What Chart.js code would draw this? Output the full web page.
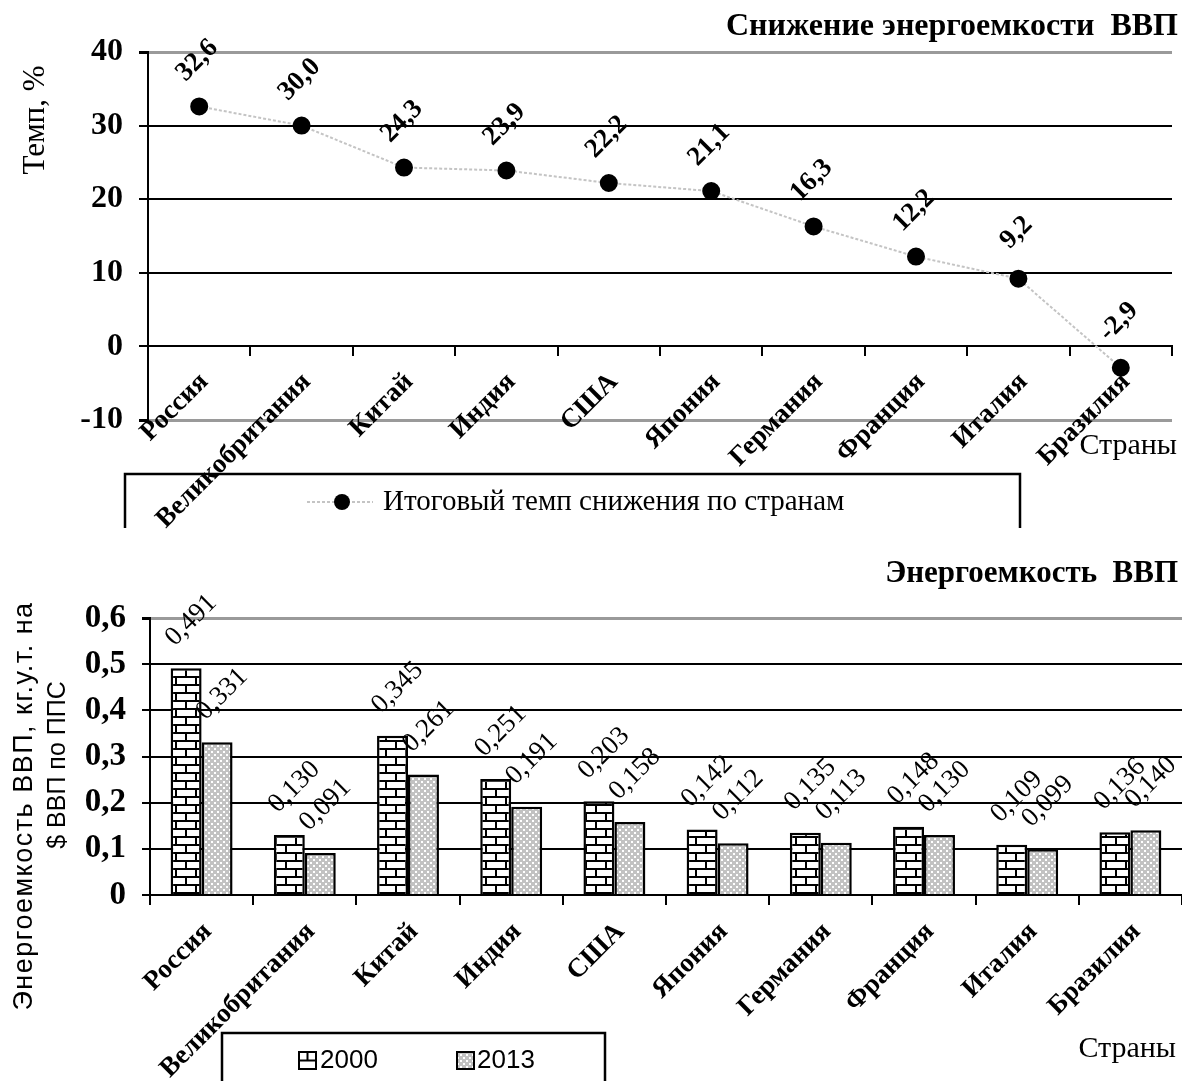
<!DOCTYPE html>
<html lang="ru">
<head>
<meta charset="UTF-8">
<title>Энергоемкость ВВП</title>
<script src="https://cdn.jsdelivr.net/npm/chart.js"></script>
<style>
    body { margin: 0; background: #fff; }
    .wrap { position: relative; width: 1182px; height: 1081px; }
    #topChart { position: absolute; left: 0; top: 0; }
    #bottomChart { position: absolute; left: 0; top: 540px; }
</style>
</head>
<body>
<div class="wrap">
    <canvas id="topChart" width="1182" height="540"></canvas>
    <canvas id="bottomChart" width="1182" height="541"></canvas>
</div>

<script>
// --- data ---
const countries = ['Россия', 'Великобритания', 'Китай', 'Индия', 'США', 'Япония', 'Германия', 'Франция', 'Италия', 'Бразилия'];
const declineRate = [32.6, 30.0, 24.3, 23.9, 22.2, 21.1, 16.3, 12.2, 9.2, -2.9];
const intensity2000 = [0.491, 0.130, 0.345, 0.251, 0.203, 0.142, 0.135, 0.148, 0.109, 0.136];
const intensity2013 = [0.331, 0.091, 0.261, 0.191, 0.158, 0.112, 0.113, 0.130, 0.099, 0.140];
const rateTicks = [-10, 0, 10, 20, 30, 40];
const intensityTicks = [0, 0.1, 0.2, 0.3, 0.4, 0.5, 0.6];

const SERIF = '"Liberation Serif", "Times New Roman", serif';
const SANS = '"Liberation Sans", Arial, sans-serif';

function comma(v, d) {
    return v.toFixed(d).replace('.', ',');
}

// fill patterns for the bars
function brickPattern(ctx) {
    const c = document.createElement('canvas');
    c.width = 20; c.height = 16;
    const g = c.getContext('2d');
    g.fillStyle = '#fff';
    g.fillRect(0, 0, 20, 16);
    g.strokeStyle = '#000';
    g.lineWidth = 2;
    g.beginPath();
    g.moveTo(0, 1); g.lineTo(20, 1);
    g.moveTo(0, 9); g.lineTo(20, 9);
    g.moveTo(6, 1); g.lineTo(6, 9);
    g.moveTo(16, 9); g.lineTo(16, 17);
    g.stroke();
    return ctx.createPattern(c, 'repeat');
}

function dotPattern(ctx) {
    const c = document.createElement('canvas');
    c.width = 6; c.height = 6;
    const g = c.getContext('2d');
    g.fillStyle = '#c2c2c2';
    g.fillRect(0, 0, 6, 6);
    g.fillStyle = '#fff';
    g.fillRect(1, 1, 2, 2);
    g.fillRect(4, 4, 2, 2);
    return ctx.createPattern(c, 'repeat');
}

function rotatedText(ctx, text, x, y, angle) {
    ctx.save();
    ctx.translate(x, y);
    ctx.rotate(angle);
    ctx.fillText(text, 0, 0);
    ctx.restore();
}

function gridColor(top, bottom) {
    return function (c) {
        if (c.tick && (c.tick.value === top || c.tick.value === bottom)) return '#9a9a9a';
        return '#000';
    };
}

// --- top chart: rate of decline ---
const topDecor = {
    id: 'topDecor',
    afterDatasetsDraw(chart) {
        const ctx = chart.ctx;
        ctx.save();
        ctx.fillStyle = '#000';
        ctx.font = 'bold 27px ' + SERIF;
        ctx.textAlign = 'center';
        ctx.textBaseline = 'middle';
        chart.getDatasetMeta(0).data.forEach(function (pt, i) {
            rotatedText(ctx, comma(declineRate[i], 1), pt.x - 2, pt.y - 46, -Math.PI / 4);
        });
        ctx.restore();
    },
    afterDraw(chart) {
        const ctx = chart.ctx;
        ctx.save();
        ctx.fillStyle = '#000';
        ctx.textBaseline = 'middle';

        ctx.font = 'bold 32px ' + SERIF;
        ctx.textAlign = 'right';
        ctx.fillText('Снижение энергоемкости  ВВП', 1178, 27);

        ctx.font = '30px ' + SERIF;
        ctx.fillText('Страны', 1177, 446);

        ctx.textAlign = 'center';
        ctx.font = '31px ' + SERIF;
        rotatedText(ctx, 'Темп, %', 36, 120, -Math.PI / 2);

        // legend box
        ctx.strokeStyle = '#000';
        ctx.lineWidth = 2.5;
        ctx.beginPath();
        ctx.moveTo(125, 528); ctx.lineTo(125, 474); ctx.lineTo(1020, 474); ctx.lineTo(1020, 528);
        ctx.stroke();

        ctx.strokeStyle = '#c4c4c4';
        ctx.lineWidth = 2;
        ctx.setLineDash([3, 2]);
        ctx.beginPath();
        ctx.moveTo(307, 502); ctx.lineTo(373, 502);
        ctx.stroke();
        ctx.setLineDash([]);
        ctx.beginPath();
        ctx.arc(342, 502, 8, 0, Math.PI * 2);
        ctx.fill();

        ctx.textAlign = 'left';
        ctx.font = '29px ' + SERIF;
        ctx.fillText('Итоговый темп снижения по странам', 383, 502);
        ctx.restore();
    }
};

new Chart(document.getElementById('topChart'), {
    type: 'line',
    data: {
        labels: countries,
        datasets: [{
            label: 'Итоговый темп снижения по странам',
            data: declineRate,
            borderColor: '#c4c4c4',
            borderWidth: 2,
            borderDash: [3, 2],
            pointRadius: 8,
            pointBackgroundColor: '#000',
            pointBorderColor: '#000',
            tension: 0,
            clip: false
        }]
    },
    options: {
        responsive: false,
        animation: false,
        layout: { padding: { top: 52, bottom: 120, left: 0, right: 0 } },
        plugins: { legend: { display: false }, tooltip: { enabled: false } },
        scales: {
            x: {
                type: 'category',
                position: { y: 0 },
                offset: true,
                grid: { display: true, drawOnChartArea: false, drawTicks: true, tickLength: 9, offset: true, color: '#000', lineWidth: 2 },
                border: { display: true, color: '#000', width: 2 },
                ticks: {
                    autoSkip: false, minRotation: 45, maxRotation: 45, padding: 11, labelOffset: 5,
                    color: '#000', font: { family: SERIF, size: 27, weight: 'bold' }
                }
            },
            y: {
                min: rateTicks[0],
                max: rateTicks[rateTicks.length - 1],
                afterFit: function (scale) { scale.width = 148; },
                afterBuildTicks: function (scale) { scale.ticks = rateTicks.map(function (v) { return { value: v }; }); },
                grid: {
                    color: gridColor(40, -10),
                    lineWidth: function (c) { return (c.tick && (c.tick.value === 40 || c.tick.value === -10)) ? 3 : 2; },
                    tickColor: '#000', tickLength: 9
                },
                border: { display: true, color: '#000', width: 2 },
                ticks: {
                    padding: 16, color: '#000',
                    font: { family: SERIF, size: 32, weight: 'bold' },
                    callback: function (v) { return String(v); }
                }
            }
        }
    },
    plugins: [topDecor]
});

// --- bottom chart: energy intensity ---
const botCanvas = document.getElementById('bottomChart');
const botCtx = botCanvas.getContext('2d');
const bricks = brickPattern(botCtx);
const dots = dotPattern(botCtx);

const bottomDecor = {
    id: 'bottomDecor',
    afterDatasetsDraw(chart) {
        const ctx = chart.ctx;
        ctx.save();
        ctx.fillStyle = '#000';
        ctx.font = '27px ' + SERIF;
        ctx.textAlign = 'center';
        ctx.textBaseline = 'middle';
        [intensity2000, intensity2013].forEach(function (series, d) {
            chart.getDatasetMeta(d).data.forEach(function (bar, i) {
                rotatedText(ctx, comma(series[i], 3), bar.x + 5, bar.y - 48, -Math.PI / 4);
            });
        });
        ctx.restore();
    },
    afterDraw(chart) {
        const ctx = chart.ctx;
        ctx.save();
        ctx.fillStyle = '#000';
        ctx.textBaseline = 'middle';

        ctx.font = 'bold 31px ' + SERIF;
        ctx.textAlign = 'right';
        ctx.fillText('Энергоемкость  ВВП', 1178, 34);

        ctx.font = '30px ' + SERIF;
        ctx.fillText('Страны', 1176, 509);

        ctx.textAlign = 'center';
        ctx.font = '27px ' + SANS;
        ctx.letterSpacing = '1.5px';
        rotatedText(ctx, 'Энергоемкость ВВП, кг.у.т. на', 25, 266, -Math.PI / 2);
        ctx.letterSpacing = '0px';
        ctx.font = '25px ' + SANS;
        rotatedText(ctx, '$ ВВП по ППС', 58, 225, -Math.PI / 2);

        // legend box
        ctx.strokeStyle = '#000';
        ctx.lineWidth = 2.5;
        ctx.beginPath();
        ctx.moveTo(222, 541); ctx.lineTo(222, 493); ctx.lineTo(605, 493); ctx.lineTo(605, 541);
        ctx.stroke();

        ctx.lineWidth = 2;
        ctx.fillStyle = '#fff';
        ctx.fillRect(299, 512, 17, 17);
        ctx.strokeRect(299, 512, 17, 17);
        ctx.beginPath();
        ctx.moveTo(299, 520.5); ctx.lineTo(316, 520.5);
        ctx.moveTo(307.5, 512); ctx.lineTo(307.5, 520.5);
        ctx.stroke();
        ctx.fillStyle = dots;
        ctx.fillRect(457, 512, 17, 17);
        ctx.strokeRect(457, 512, 17, 17);

        ctx.fillStyle = '#000';
        ctx.textAlign = 'left';
        ctx.font = '26px ' + SANS;
        ctx.fillText('2000', 320, 521);
        ctx.fillText('2013', 477, 521);
        ctx.restore();
    }
};

new Chart(botCanvas, {
    type: 'bar',
    data: {
        labels: countries,
        datasets: [{
            label: '2000',
            data: intensity2000,
            backgroundColor: bricks,
            borderColor: '#000',
            borderWidth: 2.5,
            categoryPercentage: 0.6,
            barPercentage: 1.0
        }, {
            label: '2013',
            data: intensity2013,
            backgroundColor: dots,
            borderColor: '#000',
            borderWidth: 2.5,
            categoryPercentage: 0.6,
            barPercentage: 1.0
        }]
    },
    options: {
        responsive: false,
        animation: false,
        layout: { padding: { top: 78, bottom: 186, left: 0, right: 0 } },
        plugins: { legend: { display: false }, tooltip: { enabled: false } },
        scales: {
            x: {
                type: 'category',
                position: { y: 0 },
                offset: true,
                grid: { display: true, drawOnChartArea: false, drawTicks: true, tickLength: 9, offset: true, color: '#000', lineWidth: 2 },
                border: { display: true, color: '#000', width: 2 },
                ticks: {
                    autoSkip: false, minRotation: 45, maxRotation: 45, padding: 12, labelOffset: 6,
                    color: '#000', font: { family: SERIF, size: 27, weight: 'bold' }
                }
            },
            y: {
                min: intensityTicks[0],
                max: intensityTicks[intensityTicks.length - 1],
                afterFit: function (scale) { scale.width = 150; },
                afterBuildTicks: function (scale) { scale.ticks = intensityTicks.map(function (v) { return { value: v }; }); },
                grid: {
                    color: gridColor(0.6, -1),
                    lineWidth: function (c) { return (c.tick && c.tick.value === 0.6) ? 3 : 2; },
                    tickColor: '#000', tickLength: 8
                },
                border: { display: true, color: '#000', width: 2 },
                ticks: {
                    padding: 16, color: '#000',
                    font: { family: SERIF, size: 33, weight: 'bold' },
                    callback: function (v) { return v === 0 ? '0' : comma(v, 1); }
                }
            }
        }
    },
    plugins: [bottomDecor]
});
</script>
</body>
</html>
